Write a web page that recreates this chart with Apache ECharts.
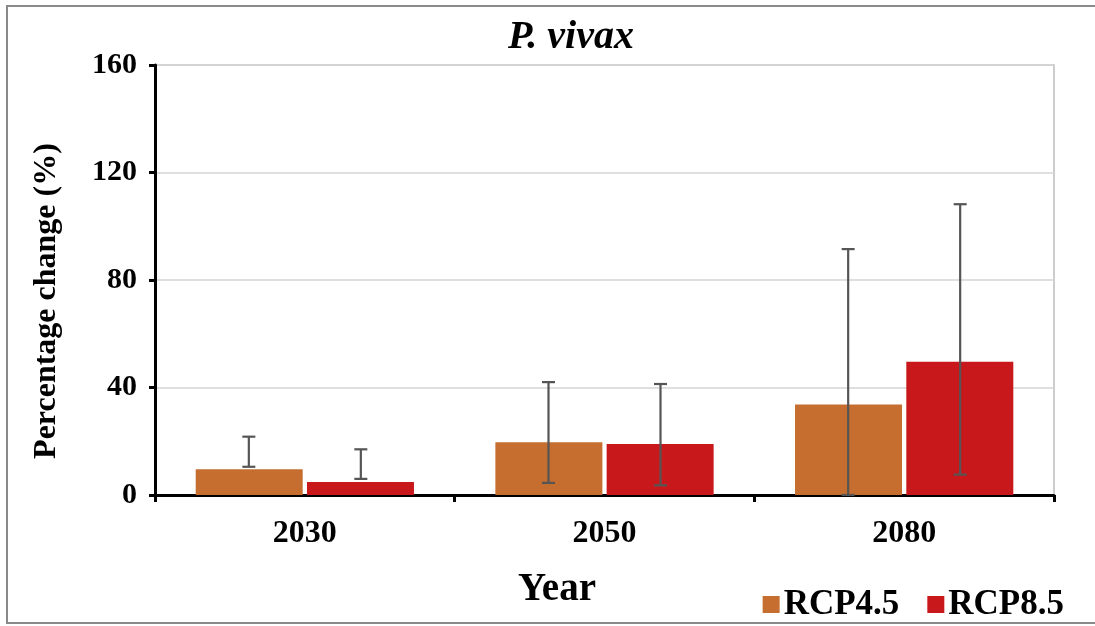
<!DOCTYPE html>
<html>
<head>
<meta charset="utf-8">
<script src="https://cdn.jsdelivr.net/npm/echarts@6/dist/echarts.min.js"></script>
<style>html,body{margin:0;padding:0;background:#fff}#c{width:1095px;height:626px}</style>
</head>
<body>
<div id="c"></div>
<script>
var categories = ['2030', '2050', '2080'];
var seriesNames = ['RCP4.5', 'RCP8.5'];
var rcp45 = [9.6, 19.6, 33.7];
var rcp85 = [4.8, 19.0, 49.6];
var rcp45Low = [10.5, 4.5, 0];
var rcp45High = [21.7, 42.0, 91.5];
var rcp85Low = [6.0, 3.6, 7.6];
var rcp85High = [17.0, 41.3, 108.2];
var yTicks = [0, 40, 80, 120, 160];
var titleText = 'P. vivax';
var xName = 'Year';
var yName = 'Percentage change (%)';

var colors = ['#C56E30', '#C8181C'];
var FONT = '"Liberation Serif", "Times New Roman", serif';
var BAR_W = 107, OFFSET = 56;

function errSeries(name, low, high, dir) {
  return {
    type: 'custom',
    name: name + ' err',
    z: 10,
    silent: true,
    data: categories.map(function (c, i) { return [i, low[i], high[i]]; }),
    renderItem: function (params, api) {
      var lo = api.coord([api.value(0), api.value(1)]);
      var hi = api.coord([api.value(0), api.value(2)]);
      var x = lo[0] + dir * OFFSET;
      var cap = 6.5;
      var st = { stroke: '#555', lineWidth: 2.2 };
      return {
        type: 'group',
        children: [
          { type: 'line', shape: { x1: x, y1: lo[1], x2: x, y2: hi[1] }, style: st },
          { type: 'line', shape: { x1: x - cap, y1: hi[1], x2: x + cap, y2: hi[1] }, style: st },
          { type: 'line', shape: { x1: x - cap, y1: lo[1], x2: x + cap, y2: lo[1] }, style: st }
        ]
      };
    }
  };
}

var chart = echarts.init(document.getElementById('c'), null, { renderer: 'canvas' });
chart.setOption({
  animation: false,
  backgroundColor: '#fff',
  title: {
    text: titleText,
    left: 566, textAlign: 'center', top: 13,
    textStyle: { fontFamily: FONT, fontSize: 40, fontWeight: 'bold', fontStyle: 'italic', color: '#000' }
  },
  legend: {
    data: seriesNames,
    right: 26, bottom: -1,
    itemWidth: 17, itemHeight: 17, itemGap: 28,
    icon: 'rect',
    textStyle: { fontFamily: FONT, fontSize: 35, fontWeight: 'bold', color: '#000', padding: [0, 0, 0, -1] }
  },
  graphic: [
    {
      type: 'rect', z: -1,
      shape: { x: 7, y: 6, width: 1100, height: 617 },
      style: { fill: null, stroke: '#8a8a8a', lineWidth: 2 }
    },
    {
      type: 'text', x: 47, y: 301, rotation: Math.PI / 2,
      style: { text: yName, font: 'bold 32px ' + FONT, fill: '#000', align: 'center', verticalAlign: 'middle' }
    },
    {
      type: 'text', x: 557, y: 590,
      style: { text: xName, font: 'bold 39px ' + FONT, fill: '#000', align: 'center', verticalAlign: 'middle' }
    }
  ],
  grid: { left: 155, right: 41, top: 65, bottom: 131, show: true, borderColor: '#bdbdbd', borderWidth: 1.5 },
  xAxis: {
    type: 'category',
    data: categories,
    axisLine: { lineStyle: { color: '#000', width: 3 } },
    axisTick: { show: true, length: 7, lineStyle: { color: '#000', width: 3 } },
    axisLabel: { fontFamily: FONT, fontSize: 32, fontWeight: 'bold', color: '#000', margin: 23 }
  },
  yAxis: {
    type: 'value',
    min: yTicks[0], max: yTicks[yTicks.length - 1], interval: 40,
    axisLine: { show: true, lineStyle: { color: '#000', width: 3 } },
    axisTick: { show: true, length: 6, lineStyle: { color: '#000', width: 3 } },
    axisLabel: { fontFamily: FONT, fontSize: 30, fontWeight: 'bold', color: '#000', margin: 18 },
    splitLine: { lineStyle: { color: '#d4d4d4', width: 1.5 } }
  },
  series: [
    { type: 'bar', name: seriesNames[0], data: rcp45, barWidth: BAR_W, barGap: '4%',
      itemStyle: { color: colors[0] } },
    { type: 'bar', name: seriesNames[1], data: rcp85, barWidth: BAR_W, barGap: '4%',
      itemStyle: { color: colors[1] } },
    errSeries(seriesNames[0], rcp45Low, rcp45High, -1),
    errSeries(seriesNames[1], rcp85Low, rcp85High, 1)
  ]
});
</script>
</body>
</html>
